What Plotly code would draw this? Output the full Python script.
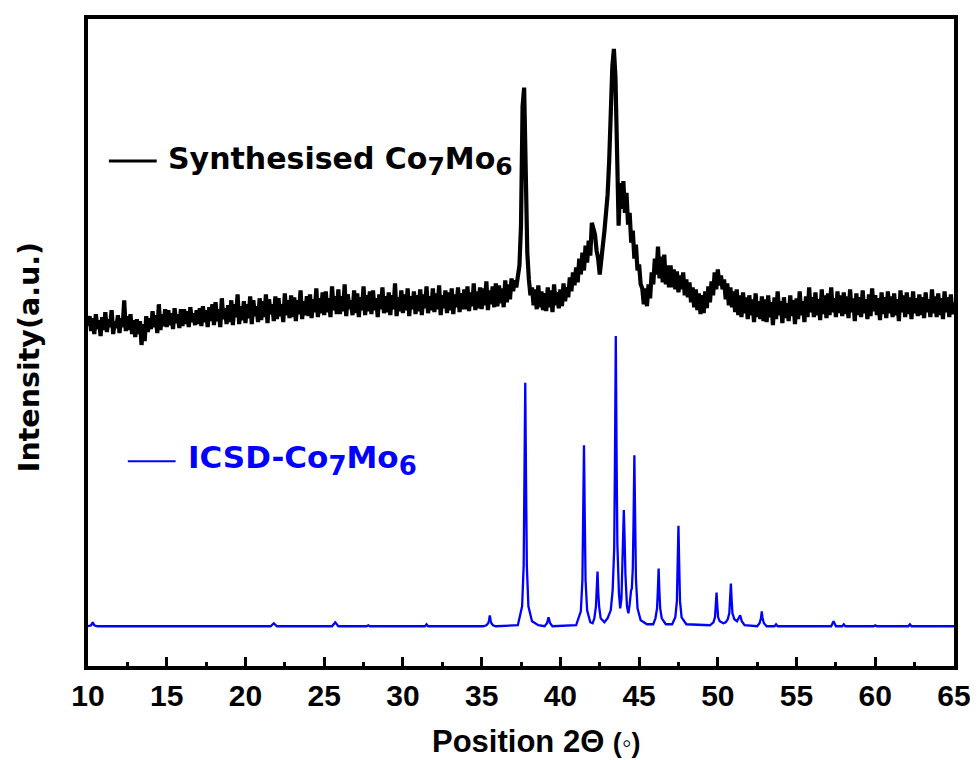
import numpy as np
import plotly.graph_objects as go

# ---- Synthesised Co7Mo6 measured pattern (arbitrary units), sampled every 0.1 deg from 10 to 65
two_theta_start = 10.0
two_theta_step = 0.1
synth_intensity = [
    344, 354, 339, 352, 336, 356, 341, 350, 334, 353,  # 10
    340, 358, 338, 351, 343, 360, 336, 349, 342, 355,  # 11
    337, 352, 343, 370, 339, 354, 340, 356, 336, 350,  # 12
    333, 351, 336, 349, 325, 346, 329, 354, 338, 352,  # 13
    341, 359, 343, 355, 337, 366, 340, 356, 344, 361,  # 14
    343, 360, 345, 357, 341, 362, 347, 356, 342, 361,  # 15
    344, 361, 346, 359, 343, 363, 348, 357, 345, 360,  # 16
    346, 362, 344, 364, 348, 360, 343, 363, 349, 366,  # 17
    345, 368, 349, 361, 343, 372, 351, 362, 346, 365,  # 18
    348, 370, 345, 366, 353, 376, 346, 364, 350, 369,  # 19
    347, 366, 352, 374, 346, 370, 354, 364, 348, 372,  # 20
    350, 369, 353, 376, 347, 371, 356, 366, 349, 374,  # 21
    351, 372, 354, 366, 348, 377, 355, 370, 352, 375,  # 22
    353, 373, 349, 370, 356, 380, 351, 369, 355, 374,  # 23
    354, 376, 352, 371, 358, 382, 353, 372, 357, 378,  # 24
    355, 379, 358, 372, 353, 384, 360, 374, 356, 381,  # 25
    356, 374, 359, 386, 354, 376, 361, 370, 355, 380,  # 26
    357, 377, 353, 373, 360, 384, 355, 375, 359, 379,  # 27
    356, 380, 360, 372, 353, 376, 361, 383, 357, 374,  # 28
    358, 378, 355, 375, 361, 387, 354, 373, 359, 380,  # 29
    357, 376, 360, 382, 354, 374, 361, 379, 356, 375,  # 30
    359, 381, 355, 376, 362, 384, 357, 374, 360, 382,  # 31
    358, 377, 361, 385, 355, 375, 362, 380, 357, 378,  # 32
    360, 382, 356, 376, 363, 383, 358, 377, 361, 381,  # 33
    361, 384, 359, 378, 364, 387, 360, 379, 362, 383,  # 34
    361, 382, 365, 389, 360, 380, 366, 384, 363, 387,  # 35
    364, 385, 367, 382, 363, 390, 368, 386, 371, 392,  # 36
    379, 390, 383, 396, 405, 445, 565, 584, 495, 418,  # 37
    391, 375, 383, 365, 381, 361, 385, 363, 379, 360,  # 38
    377, 359, 383, 363, 380, 358, 386, 365, 378, 362,  # 39
    381, 364, 387, 369, 383, 373, 393, 379, 398, 385,  # 40
    403, 388, 412, 396, 418, 400, 425, 408, 430, 415,  # 41
    448, 440, 436, 420, 412, 396, 410, 418, 440, 458,  # 42
    476, 510, 565, 605, 623, 594, 520, 445, 488, 462,  # 43
    490, 458, 478, 446, 458, 428, 440, 412, 426, 400,  # 44
    406, 386, 382, 366, 382, 364, 386, 372, 398, 386,  # 45
    412, 396, 424, 392, 414, 388, 416, 386, 405, 383,  # 46
    405, 383, 401, 381, 399, 378, 395, 381, 398, 375,  # 47
    391, 373, 388, 368, 383, 363, 381, 360, 377, 356,  # 48
    375, 357, 379, 362, 384, 368, 389, 375, 398, 381,  # 49
    401, 385, 395, 381, 391, 371, 387, 365, 383, 363,  # 50
    379, 358, 381, 355, 375, 353, 378, 357, 373, 351,  # 51
    375, 355, 371, 348, 377, 353, 369, 351, 374, 349,  # 52
    371, 348, 375, 353, 368, 345, 373, 351, 379, 355,  # 53
    369, 347, 373, 352, 367, 349, 375, 354, 370, 346,  # 54
    372, 351, 379, 355, 369, 348, 374, 353, 383, 358,  # 55
    373, 353, 378, 355, 371, 350, 381, 356, 375, 352,  # 56
    377, 355, 383, 358, 372, 353, 379, 357, 375, 354,  # 57
    378, 356, 374, 352, 381, 358, 372, 349, 377, 355,  # 58
    373, 353, 380, 357, 371, 351, 376, 354, 382, 359,  # 59
    375, 355, 372, 350, 378, 356, 373, 352, 379, 357,  # 60
    374, 353, 377, 355, 371, 349, 380, 358, 375, 353,  # 61
    378, 356, 373, 351, 379, 357, 372, 354, 376, 355,  # 62
    373, 352, 378, 358, 371, 353, 381, 357, 374, 353,  # 63
    377, 355, 372, 351, 379, 358, 373, 353, 376, 356,  # 64
    368,                                               # 65
]
synth_2theta = np.round(two_theta_start + two_theta_step * np.arange(len(synth_intensity)), 2)

# ---- ICSD reference pattern for Co7Mo6 (profile vertices, arbitrary units)
icsd_2theta = [
    10.0, 10.2, 10.3, 10.4, 10.6,
    21.6, 21.8, 22.0,
    25.5, 25.7, 25.9,
    27.7, 27.8, 27.9,
    31.4, 31.5, 31.6,
    35.1, 35.3, 35.42, 35.47, 35.52, 35.57, 35.62, 35.72, 35.9,
    37.3, 37.57, 37.67, 37.72, 37.77, 37.82, 37.87, 37.97, 38.2, 38.6,
    39.0, 39.15, 39.25, 39.35, 39.5,
    41.0, 41.3, 41.4, 41.45, 41.50, 41.55, 41.6, 41.7,
    41.9, 42.05, 42.16, 42.26, 42.31, 42.36, 42.41, 42.46, 42.56, 42.8,
    43.0, 43.2, 43.32, 43.42, 43.47, 43.52, 43.57, 43.62, 43.72, 43.8,
    43.88, 43.93, 43.98, 44.03, 44.08, 44.13, 44.23, 44.32,
    44.40, 44.45, 44.49, 44.54, 44.6, 44.65, 44.70, 44.75, 44.80, 44.9, 45.1, 45.5,
    45.9, 46.04, 46.14, 46.19, 46.24, 46.29, 46.34, 46.44, 46.7,
    47.1, 47.3, 47.4, 47.45, 47.50, 47.55, 47.6, 47.7, 48.0,
    49.5, 49.72, 49.82, 49.87, 49.92, 49.97, 50.02, 50.12, 50.35,
    50.5, 50.63, 50.73, 50.78, 50.83, 50.88, 50.93, 51.05,
    51.22, 51.32, 51.42, 51.52, 51.7,
    52.5, 52.65, 52.74, 52.79, 52.84, 52.93, 53.1,
    53.6, 53.7, 53.8,
    57.2, 57.35, 57.5,
    57.9, 58.0, 58.1,
    59.9, 60.0, 60.1,
    62.1, 62.2, 62.3,
    65.0,
]
icsd_intensity = [
    42, 43, 46, 43, 42,
    42, 45, 42,
    42, 46, 42,
    42, 43, 42,
    42, 44, 42,
    42, 43, 45, 48, 53, 48, 45, 43, 42,
    43, 62, 103, 189, 287, 189, 103, 62, 47, 43,
    42, 45, 51, 45, 42,
    43, 57, 88, 151, 224, 151, 88, 58,
    46, 45, 50, 62, 75, 97, 75, 62, 50, 46,
    50, 58, 78, 120, 215, 334, 215, 125, 75, 60,
    70, 95, 130, 159, 130, 95, 62, 55,
    64, 76, 78, 80, 100, 150, 214, 150, 90, 60, 48, 44,
    44, 50, 60, 77, 100, 77, 60, 50, 44,
    44, 51, 67, 102, 143, 102, 67, 51, 44,
    43, 46, 51, 62, 76, 62, 51, 47, 45,
    46, 49, 55, 68, 85, 68, 55, 49,
    47, 50, 53, 47, 43,
    42, 45, 50, 57, 50, 45, 42,
    42, 44, 42,
    42, 47, 42,
    42, 44, 42,
    42, 43, 42,
    42, 44, 42,
    42,
]

x_ticks = [10, 15, 20, 25, 30, 35, 40, 45, 50, 55, 60, 65]

ARIAL = "Arial, Liberation Sans, sans-serif"
WIDE = "DejaVu Sans, Arial, sans-serif"

# page layout (browser body adds an 8px offset)
OFF = 8
PL, PR, PT, PB = 88, 958, 15, 666          # plot area in page pixels
FIG_W, FIG_H = 978 - OFF, 760 - OFF


def px(xp):
    return (xp - PL) / (PR - PL)


def py(yp):
    return (PB - yp) / (PB - PT)


fig = go.Figure()
fig.add_trace(go.Scatter(x=synth_2theta, y=synth_intensity, mode="lines",
                         line=dict(color="black", width=4.2), showlegend=False))
fig.add_trace(go.Scatter(x=icsd_2theta, y=icsd_intensity, mode="lines",
                         line=dict(color="#0000ff", width=2.3), showlegend=False))

SUB_K = "<sub><span style='font-size:25px'>{}</span></sub>"
SUB_B = "<sub><span style='font-size:26px'>{}</span></sub>"

# legend-like labels
fig.add_shape(type="line", xref="paper", yref="paper", x0=px(109), x1=px(157),
              y0=py(158), y1=py(158), line=dict(color="black", width=3))
fig.add_annotation(xref="paper", yref="paper", x=px(166), y=py(158),
                   xanchor="left", yanchor="middle", showarrow=False,
                   text="Synthesised Co" + SUB_K.format("7") + "Mo" + SUB_K.format("6"),
                   font=dict(family=WIDE, size=30, color="black", weight="bold"))
fig.add_shape(type="line", xref="paper", yref="paper", x0=px(128), x1=px(176),
              y0=py(460), y1=py(460), line=dict(color="#0000ff", width=2))
fig.add_annotation(xref="paper", yref="paper", x=px(186), y=py(459),
                   xanchor="left", yanchor="middle", showarrow=False,
                   text="ICSD-Co" + SUB_B.format("7") + "Mo" + SUB_B.format("6"),
                   font=dict(family=WIDE, size=31, color="#0000ff", weight="bold"))

# axis titles
fig.add_annotation(xref="paper", yref="paper", x=px(538), y=py(742),
                   xanchor="center", yanchor="middle", showarrow=False,
                   text="Position 2Θ <span style='font-size:27px'>(◦)</span>",
                   font=dict(family=ARIAL, size=31, color="black", weight="bold"))
fig.add_annotation(xref="paper", yref="paper", x=px(30), y=py(355),
                   xanchor="center", yanchor="middle", showarrow=False, textangle=-90,
                   text="Intensity(a.u.)",
                   font=dict(family=WIDE, size=28.5, color="black", weight="bold"))

fig.update_layout(
    width=FIG_W, height=FIG_H,
    margin=dict(l=PL - OFF, r=FIG_W - (PR - OFF), t=PT - OFF, b=FIG_H - (PB - OFF)),
    paper_bgcolor="white", plot_bgcolor="white",
    font=dict(family=ARIAL, color="black"),
    xaxis=dict(
        range=[10, 65], tickmode="array", tickvals=x_ticks, ticktext=[str(t) for t in x_ticks],
        ticks="inside", ticklen=9, tickwidth=3, tickcolor="black",
        minor=dict(ticks="inside", ticklen=4, tickwidth=3, tickcolor="black", dtick=2.5, tick0=10),
        showline=True, linewidth=4, linecolor="black", mirror=True,
        showgrid=False, zeroline=False,
        tickfont=dict(family=ARIAL, size=30, color="black", weight="bold"),
    ),
    yaxis=dict(
        range=[668 - PB, 668 - PT], showticklabels=False, ticks="",
        showline=True, linewidth=4, linecolor="black", mirror=True,
        showgrid=False, zeroline=False,
    ),
)

fig.write_html("out.html")
